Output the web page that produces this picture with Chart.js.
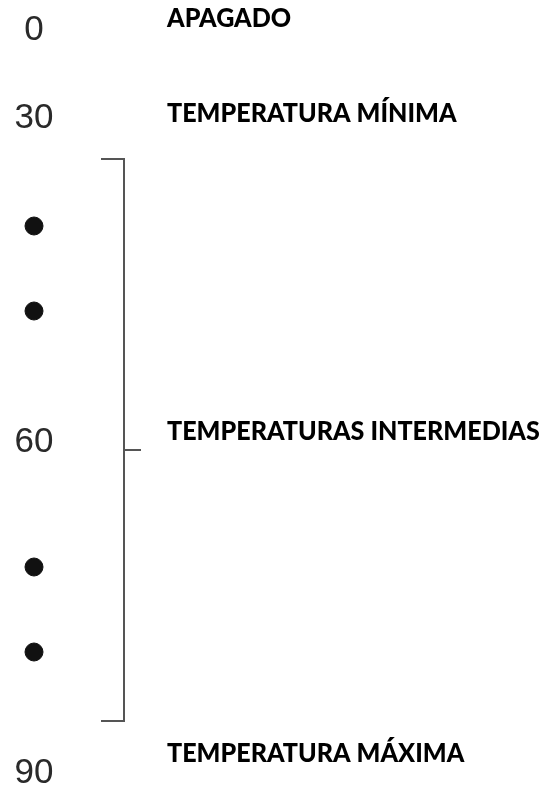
<!DOCTYPE html>
<html>
<head>
<meta charset="utf-8">
<script src="https://cdn.jsdelivr.net/npm/chart.js@4"></script>
<style>
  html, body { margin: 0; padding: 0; background: #fff; }
  canvas { display: block; }
</style>
</head>
<body>
<canvas id="chart" width="555" height="787"></canvas>
<script>
// scale readings on the left, in the vertical units of the diagram (0 = top, 787 = bottom)
const scaleLabels = ['0', '30', '60', '90'];
const scaleRows = [40, 128, 452, 783];

// state names to the right
const stateLabels = ['APAGADO', 'TEMPERATURA MÍNIMA', 'TEMPERATURAS INTERMEDIAS', 'TEMPERATURA MÁXIMA'];
const stateRows = [27, 122, 440, 762];

// intermediate knob marks
const dotRows = [226, 311, 567, 652];
const dotColumn = 34;

// bracket round the intermediate range
const bracketColumns = [101, 124, 141];
const bracketRows = [159, 721, 450];

const labelPlugin = {
  id: 'labels',
  afterDatasetsDraw(chart) {
    const ctx = chart.ctx;
    const x = chart.scales.x;
    const y = chart.scales.y;
    ctx.save();
    ctx.textBaseline = 'alphabetic';

    ctx.font = '35px "Liberation Sans", Arial, sans-serif';
    ctx.fillStyle = '#2a2a2a';
    ctx.textAlign = 'center';
    scaleLabels.forEach((t, i) => {
      ctx.fillText(t, x.getPixelForValue(dotColumn), y.getPixelForValue(scaleRows[i]));
    });

    ctx.font = '900 27px Lato, "Noto Sans", sans-serif';
    ctx.fillStyle = '#000';
    ctx.textAlign = 'left';
    stateLabels.forEach((t, i) => {
      ctx.save();
      ctx.translate(x.getPixelForValue(167), y.getPixelForValue(stateRows[i]));
      ctx.scale(0.93, 1); // Calibri-ish narrower caps
      ctx.fillText(t, 0, 0);
      ctx.restore();
    });
    ctx.restore();
  }
};

const lineStyle = {
  showLine: true,
  borderColor: '#555',
  borderWidth: 2,
  pointRadius: 0,
  fill: false,
  tension: 0
};

new Chart(document.getElementById('chart'), {
  type: 'scatter',
  data: {
    datasets: [
      {
        label: 'marcas',
        data: dotRows.map(r => ({ x: dotColumn, y: r })),
        pointRadius: 9,
        pointBackgroundColor: '#111',
        pointBorderColor: '#111',
        showLine: false
      },
      Object.assign({
        label: 'corchete',
        data: [
          { x: bracketColumns[0], y: bracketRows[0] },
          { x: bracketColumns[1], y: bracketRows[0] },
          { x: bracketColumns[1], y: bracketRows[1] },
          { x: bracketColumns[0], y: bracketRows[1] }
        ]
      }, lineStyle),
      Object.assign({
        label: 'centro',
        data: [
          { x: bracketColumns[1], y: bracketRows[2] },
          { x: bracketColumns[2], y: bracketRows[2] }
        ]
      }, lineStyle)
    ]
  },
  options: {
    responsive: false,
    animation: false,
    layout: { padding: 0, autoPadding: false },
    scales: {
      x: { type: 'linear', min: 0, max: 555, display: false },
      y: { type: 'linear', min: 0, max: 787, reverse: true, display: false }
    },
    plugins: {
      legend: { display: false },
      tooltip: { enabled: false }
    }
  },
  plugins: [labelPlugin]
});
</script>
</body>
</html>
